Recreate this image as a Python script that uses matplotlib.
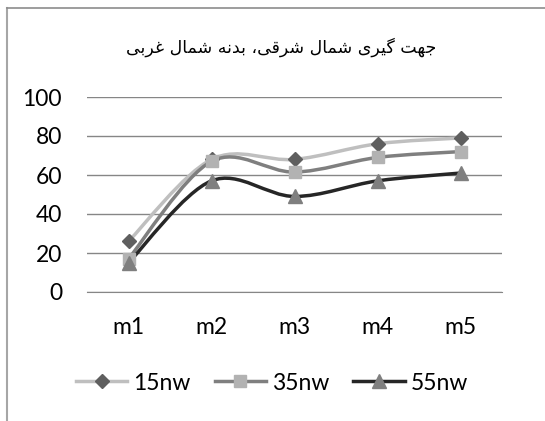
import matplotlib
matplotlib.use("Agg")
import matplotlib.pyplot as plt
from matplotlib.path import Path
from matplotlib.patches import PathPatch
from matplotlib.lines import Line2D

categories = ["m1", "m2", "m3", "m4", "m5"]
s15 = [26, 68, 68, 76, 79]
s35 = [17, 67, 61.5, 69, 72]
s55 = [15, 57, 49, 57, 61]
names = ["15nw", "35nw", "55nw"]
yticks = [0, 20, 40, 60, 80, 100]

# title: Persian, written in presentation forms (visual order) since matplotlib does no shaping
title_logical = ("\uFE9F\uFEEC\uFE96 \uFB94\uFBFF\uFEAE\uFBFC \uFEB7\uFEE4\uFE8E\uFEDD "
                 "\uFEB7\uFEAE\uFED7\uFBFD\u060C \uFE91\uFEAA\uFEE7\uFEEA "
                 "\uFEB7\uFEE4\uFE8E\uFEDD \uFECF\uFEAE\uFE91\uFBFD")
title = title_logical[::-1]


def smooth_path(xs, ys):
    # Excel-like smoothed line: cubic bezier through the points
    pts = list(zip(xs, ys))
    verts = [pts[0]]
    codes = [Path.MOVETO]
    n = len(pts)
    for i in range(n - 1):
        p0 = pts[i - 1] if i > 0 else pts[i]
        p1 = pts[i]
        p2 = pts[i + 1]
        p3 = pts[i + 2] if i + 2 < n else pts[i + 1]
        c1 = (p1[0] + (p2[0] - p0[0]) / 6, p1[1] + (p2[1] - p0[1]) / 6)
        c2 = (p2[0] - (p3[0] - p1[0]) / 6, p2[1] - (p3[1] - p1[1]) / 6)
        verts += [c1, c2, p2]
        codes += [Path.CURVE4] * 3
    return Path(verts, codes)


W, H = 545, 421
fig = plt.figure(figsize=(W / 100, H / 100), dpi=100)
ax = fig.add_axes([87 / W, 1 - 292 / H, (502 - 87) / W, (292 - 97) / H])

x = list(range(1, len(categories) + 1))
styles = [
    (s15, "#BFBFBF", "D", "#5F5F5F", 7.5),
    (s35, "#7F7F7F", "s", "#B2B2B2", 8.5),
    (s55, "#262626", "^", "#7F7F7F", 9.5),
]
handles = []
for (vals, lc, mk, mc, ms), name in zip(styles, names):
    ax.add_patch(PathPatch(smooth_path(x, vals), facecolor="none", edgecolor=lc,
                           lw=2.5, zorder=3, capstyle="round"))
    ax.plot(x, vals, ls="none", marker=mk, ms=ms, mfc=mc, mec=mc, zorder=4, clip_on=False)
    handles.append(Line2D([], [], color=lc, lw=2.5, marker=mk, ms=ms, mfc=mc, mec=mc))

ax.set_xlim(0.5, len(categories) + 0.5)
ax.set_ylim(0, 100)
ax.set_yticks(yticks)
ax.set_xticks(x)
ax.set_xticklabels(categories)
ax.grid(axis="y", color="#868686", lw=1)
ax.set_axisbelow(True)
for s in ["top", "right", "left"]:
    ax.spines[s].set_visible(False)
ax.spines["bottom"].set_color("#868686")
ax.tick_params(length=0, labelsize=16.5, colors="black")
ax.tick_params(axis="x", pad=18)
ax.tick_params(axis="y", pad=18)
for lab in ax.get_xticklabels() + ax.get_yticklabels():
    lab.set_family("Lato")

fig.text(281 / W, 1 - 47 / H, title, ha="center", va="center", fontsize=12.5,
         family="DejaVu Sans")

fig.legend(handles, names, loc="center", bbox_to_anchor=(272 / W, 1 - 383 / H),
           ncol=3, frameon=False, handlelength=2.25, handletextpad=0.25,
           columnspacing=1.05, prop={"family": "Lato", "size": 16.5})

# outer chart border (left and top edges)
fig.add_artist(Line2D([7 / W, 7 / W], [0, 1 - 8 / H], color="#A6A6A6", lw=1.5))
fig.add_artist(Line2D([7 / W, 1], [1 - 8 / H, 1 - 8 / H], color="#8C8C8C", lw=1.2))

fig.savefig("out.png", dpi=100)
